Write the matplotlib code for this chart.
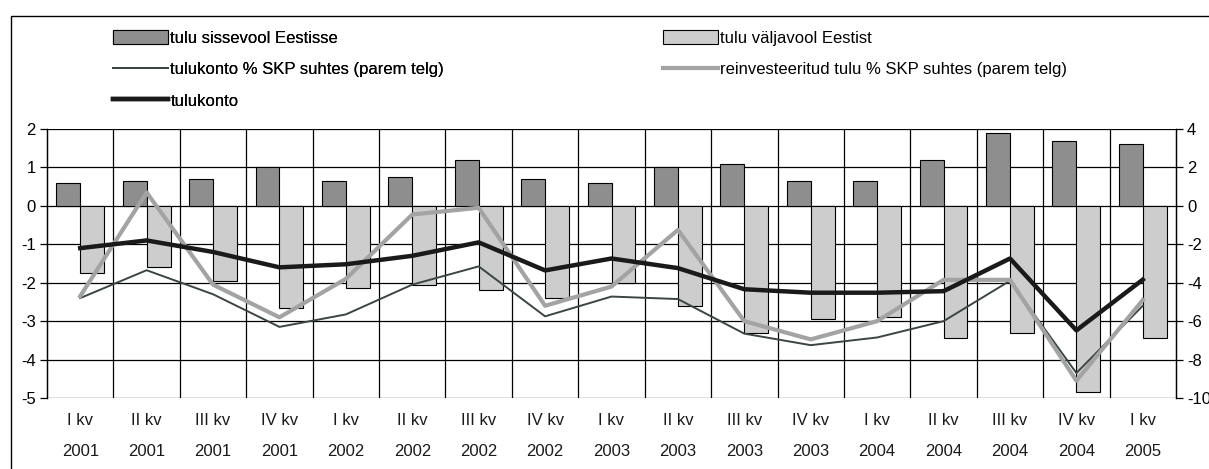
import matplotlib.pyplot as plt
from matplotlib.patches import Rectangle
import numpy as np

plt.rcParams['font.family'] = ['Liberation Sans', 'DejaVu Sans']
plt.rcParams['axes.unicode_minus'] = False

# kvartalid
quarters = ["I kv\n2001", "II kv\n2001", "III kv\n2001", "IV kv\n2001",
            "I kv\n2002", "II kv\n2002", "III kv\n2002", "IV kv\n2002",
            "I kv\n2003", "II kv\n2003", "III kv\n2003", "IV kv\n2003",
            "I kv\n2004", "II kv\n2004", "III kv\n2004", "IV kv\n2004",
            "I kv\n2005"]

# vasak telg
inflow = [0.6, 0.65, 0.7, 1.0, 0.65, 0.75, 1.2, 0.7, 0.6, 1.0, 1.1, 0.65,
          0.65, 1.2, 1.9, 1.7, 1.6]
outflow = [-1.75, -1.6, -1.95, -2.65, -2.15, -2.05, -2.2, -2.4, -2.0, -2.6,
           -3.3, -2.95, -2.9, -3.45, -3.3, -4.85, -3.45]
income_acc = [-1.1, -0.9, -1.2, -1.6, -1.52, -1.3, -0.95, -1.68, -1.37, -1.62,
              -2.17, -2.26, -2.26, -2.22, -1.37, -3.24, -1.92]

# parem telg (% SKP)
income_gdp = [-4.8, -3.35, -4.6, -6.3, -5.65, -4.1, -3.15, -5.75, -4.72, -4.85,
              -6.65, -7.25, -6.85, -6.0, -3.9, -8.7, -5.2]
reinv_gdp = [-4.7, 0.7, -4.1, -5.8, -3.8, -0.45, -0.1, -5.2, -4.2, -1.25,
             -6.0, -6.95, -6.0, -3.85, -3.85, -9.1, -4.9]

x = np.arange(len(quarters))
W, H = 1209, 469
fs = 12
fig = plt.figure(figsize=(W / 100, H / 100), dpi=100)
ax = fig.add_axes([47 / W, 1 - 398 / H, 1129 / W, 269 / H])
ax2 = ax.twinx()

b1 = ax.bar(x - 0.18, inflow, width=0.36, color='#8e8e8e', edgecolor='black', lw=0.8, zorder=3)
b2 = ax.bar(x + 0.18, outflow, width=0.36, color='#cdcdcd', edgecolor='black', lw=0.8, zorder=3)

# parema telje jooned joonistatakse vasakule teljele (skaala 2:1), et need oleks tulpade peal
ax.set_ylim(-5, 2)
ax2.set_ylim(-10, 4)
l3, = ax.plot(x, np.array(income_gdp) / 2, color='#3a463e', lw=1.4, zorder=4)
l4, = ax.plot(x, np.array(reinv_gdp) / 2, color='#a3a3a3', lw=3.0, zorder=5)
l5, = ax.plot(x, income_acc, color='#1a1a1a', lw=3.2, zorder=6)
ax.set_zorder(ax2.get_zorder() + 1)
ax.patch.set_visible(False)

ax.set_xlim(-0.5, len(quarters) - 0.5)
ax.set_yticks(range(-5, 3))
ax2.set_yticks(range(-10, 5, 2))

# ruudustik
for yv in range(-5, 3):
    ax.axhline(yv, color='black', lw=0.9, zorder=1)
for xv in np.arange(0.5, len(quarters) - 0.5):
    ax.axvline(xv, color='black', lw=0.9, zorder=1)

ax.set_xticks(x)
ax.set_xticklabels(quarters, linespacing=2.3)
ax.tick_params(axis='x', length=0, pad=11, labelsize=fs, colors='#1a1a1a')
ax.tick_params(axis='y', length=5, width=0.9, pad=3, labelsize=fs)
ax2.tick_params(axis='y', length=5, width=0.9, pad=3, labelsize=fs)
for a in (ax, ax2):
    for s in ('top', 'bottom'):
        a.spines[s].set_visible(False)
    a.spines['left'].set_linewidth(0.9)
    a.spines['right'].set_linewidth(0.9)

# legend
leg_kw = dict(loc='upper left', frameon=False, fontsize=fs, handlelength=3.3,
              handleheight=0.9, handletextpad=0.15, labelspacing=0.95,
              borderpad=0, borderaxespad=0)
leg1 = fig.legend([b1, l3, l5],
                  ["tulu sissevool Eestisse", "tulukonto % SKP suhtes (parem telg)", "tulukonto"],
                  bbox_to_anchor=(113 / W, 1 - 30 / H), **leg_kw)
leg2 = fig.legend([b2, l4],
                  ["tulu väljavool Eestist", "reinvesteeritud tulu % SKP suhtes (parem telg)"],
                  bbox_to_anchor=(663 / W, 1 - 30 / H), **leg_kw)
fig.add_artist(leg1)

# raam
fig.add_artist(Rectangle((11 / W, -0.5), 2, 1.5 - 16 / H, transform=fig.transFigure,
                         fill=False, edgecolor='black', lw=1.0))

fig.savefig("out.png", dpi=100)
